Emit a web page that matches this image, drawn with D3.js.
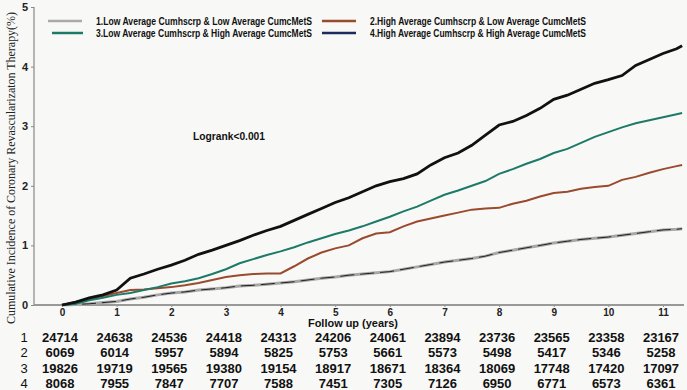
<!DOCTYPE html>
<html><head><meta charset="utf-8">
<script src="https://cdn.jsdelivr.net/npm/d3@7"></script>
<style>
html,body{margin:0;padding:0;background:#f8f8f6;}
svg{display:block;}
</style></head>
<body>
<svg id="c" width="687" height="390"></svg>
<script>
// ---- data ----
const times = [0,0.25,0.5,0.75,1,1.25,1.5,1.75,2,2.25,2.5,2.75,3,3.25,3.5,3.75,4,4.25,4.5,4.75,5,5.25,5.5,5.75,6,6.25,6.5,6.75,7,7.25,7.5,7.75,8,8.25,8.5,8.75,9,9.25,9.5,9.75,10,10.25,10.5,10.75,11,11.25,11.35];
const series1 = [0,0.01,0.02,0.04,0.06,0.1,0.13,0.17,0.2,0.22,0.25,0.27,0.29,0.32,0.33,0.35,0.37,0.39,0.42,0.45,0.47,0.5,0.52,0.54,0.56,0.6,0.64,0.68,0.72,0.75,0.78,0.82,0.88,0.92,0.96,1.0,1.04,1.07,1.1,1.12,1.14,1.17,1.2,1.23,1.26,1.27,1.28];
const series2 = [0,0.05,0.1,0.15,0.2,0.25,0.26,0.28,0.3,0.33,0.37,0.42,0.47,0.5,0.52,0.53,0.53,0.65,0.78,0.88,0.95,1.0,1.12,1.2,1.22,1.32,1.4,1.45,1.5,1.55,1.6,1.62,1.63,1.7,1.75,1.82,1.88,1.9,1.95,1.98,2.0,2.1,2.15,2.22,2.28,2.33,2.35];
const series3 = [0,0.02,0.08,0.12,0.17,0.2,0.25,0.3,0.36,0.4,0.45,0.52,0.6,0.7,0.77,0.84,0.9,0.97,1.05,1.12,1.19,1.25,1.32,1.4,1.48,1.57,1.65,1.75,1.85,1.92,2.0,2.08,2.2,2.28,2.37,2.45,2.55,2.62,2.72,2.82,2.9,2.98,3.05,3.1,3.15,3.2,3.22];
const series4 = [0,0.05,0.12,0.17,0.25,0.45,0.52,0.6,0.67,0.75,0.85,0.92,1.0,1.08,1.17,1.25,1.32,1.42,1.52,1.62,1.72,1.8,1.9,2.0,2.07,2.12,2.2,2.35,2.47,2.55,2.68,2.85,3.02,3.08,3.18,3.3,3.45,3.52,3.62,3.72,3.78,3.85,4.02,4.12,4.22,4.3,4.35];
const legendLabels = ["1.Low Average Cumhscrp & Low Average CumcMetS","2.High Average Cumhscrp & Low Average CumcMetS","3.Low Average Cumhscrp & High Average CumcMetS","4.High Average Cumhscrp & High Average CumcMetS"];
const xTicks = [0,1,2,3,4,5,6,7,8,9,10,11];
const yTicks = [0,1,2,3,4,5];
const riskLabels = ["1","2","3","4"];
const risk1 = [24714,24638,24536,24418,24313,24206,24061,23894,23736,23565,23358,23167];
const risk2 = [6069,6014,5957,5894,5825,5753,5661,5573,5498,5417,5346,5258];
const risk3 = [19826,19719,19565,19380,19154,18917,18671,18364,18069,17748,17420,17097];
const risk4 = [8068,7955,7847,7707,7588,7451,7305,7126,6950,6771,6573,6361];

// ---- drawing ----
const svg = d3.select("#c");
const x = d3.scaleLinear().domain([0,11]).range([62,663]);
const y = d3.scaleLinear().domain([0,5]).range([305,7]);
const sans = "'Liberation Sans', Arial, sans-serif";

svg.append("rect").attr("width",687).attr("height",390).attr("fill","#f8f8f6");

// axes
const yAxis = svg.append("g").attr("transform","translate(34,0)")
  .call(d3.axisLeft(y).tickValues(yTicks).tickSize(3).tickFormat(d3.format("d")));
yAxis.select(".domain").remove();
yAxis.selectAll("line").attr("stroke","#888");
yAxis.selectAll("text").attr("font-family",sans).attr("font-weight","bold").attr("font-size",11).attr("fill","#222").attr("x",-6);
svg.append("line").attr("x1",34).attr("x2",34).attr("y1",y(5)).attr("y2",y(0)).attr("stroke","#888").attr("stroke-width",1.2);

const xAxis = svg.append("g").attr("transform","translate(0,305)")
  .call(d3.axisBottom(x).tickValues(xTicks).tickSize(2).tickFormat(d3.format("d")));
xAxis.select(".domain").remove();
xAxis.selectAll("line").attr("stroke","#888");
xAxis.selectAll("text").attr("font-family",sans).attr("font-weight","bold").attr("font-size",10).attr("fill","#222").attr("y",4);
svg.append("line").attr("x1",34).attr("x2",684).attr("y1",305).attr("y2",305).attr("stroke","#999").attr("stroke-width",2);

// y title
svg.append("text").attr("transform","translate(15,168) rotate(-90)")
  .attr("text-anchor","middle").attr("font-family","'Liberation Serif', 'Times New Roman', serif")
  .attr("font-size",12).attr("fill","#222").attr("textLength",312).attr("lengthAdjust","spacingAndGlyphs")
  .text("Cumulative Incidence of Coronary Revascularizaton Therapy(%)");

// x title
svg.append("text").attr("x",308).attr("y",327).attr("font-family",sans).attr("font-weight","bold")
  .attr("font-size",11).attr("fill","#111").attr("textLength",90).attr("lengthAdjust","spacingAndGlyphs")
  .text("Follow up (years)");

// logrank
svg.append("text").attr("x",193).attr("y",140).attr("font-family",sans).attr("font-weight","bold")
  .attr("font-size",10.5).attr("fill","#111").attr("textLength",72).attr("lengthAdjust","spacingAndGlyphs")
  .text("Logrank<0.001");

// curves
const line = d3.line().x((d,i)=>x(times[i])).y(d=>y(d)).curve(d3.curveLinear);
svg.append("path").datum(series1).attr("d",line).attr("fill","none").attr("stroke","#a8a8a8").attr("stroke-width",3);
svg.append("path").datum(series1).attr("d",line).attr("fill","none").attr("stroke","#222").attr("stroke-width",1).attr("stroke-dasharray","14,6");
svg.append("path").datum(series2).attr("d",line).attr("fill","none").attr("stroke","#9a4a2e").attr("stroke-width",2);
svg.append("path").datum(series3).attr("d",line).attr("fill","none").attr("stroke","#1d7a68").attr("stroke-width",2);
svg.append("path").datum(series4).attr("d",line).attr("fill","none").attr("stroke","#111").attr("stroke-width",2.8);

// legend
const legColors = ["#aaaaaa","#9a4a2e","#1d7a68","#1c2b5e"];
const legPos = [{lx1:48,lx2:82,tx:96,y:21},{lx1:322,lx2:356,tx:370,y:21},{lx1:52,lx2:83,tx:96,y:33},{lx1:322,lx2:356,tx:370,y:33}];
legendLabels.forEach((lab,i)=>{
  const p = legPos[i];
  svg.append("line").attr("x1",p.lx1).attr("x2",p.lx2).attr("y1",p.y).attr("y2",p.y).attr("stroke",legColors[i]).attr("stroke-width",2.5);
  svg.append("text").attr("x",p.tx).attr("y",p.y+3.5).attr("font-family",sans).attr("font-weight","bold")
    .attr("font-size",10).attr("fill","#111").attr("textLength",216).attr("lengthAdjust","spacingAndGlyphs").text(lab);
});

// risk table
const riskRows = [risk1,risk2,risk3,risk4];
const rowY = [342,357,373,388];
riskRows.forEach((row,r)=>{
  svg.append("text").attr("x",24).attr("y",rowY[r]).attr("text-anchor","middle").attr("font-family",sans)
    .attr("font-size",13).attr("fill","#111").text(riskLabels[r]);
  svg.selectAll(null).data(row).enter().append("text")
    .attr("x",(d,i)=>x(xTicks[i])-2).attr("y",rowY[r]).attr("text-anchor","middle")
    .attr("font-family",sans).attr("font-weight","bold").attr("font-size",13).attr("fill","#111")
    .text(d=>d);
});
</script>
</body></html>
